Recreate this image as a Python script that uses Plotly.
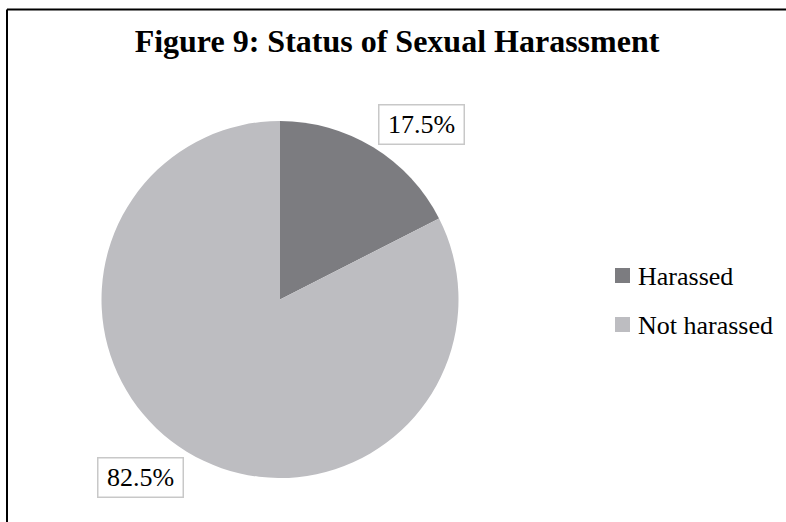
import plotly.graph_objects as go

labels = ["Harassed", "Not harassed"]
values = [17.5, 82.5]
colors = ["#7c7c80", "#bdbdc1"]
label_texts = ["17.5%", "82.5%"]
title_text = "Figure 9: Status of Sexual Harassment"

W, H = 786, 522
FONT = "Liberation Serif"

def px(x):
    return x / W

def py(y):
    return 1 - y / H

cx, cy, r = 280, 299.5, 178.5

fig = go.Figure(go.Pie(
    labels=labels,
    values=values,
    marker=dict(colors=colors, line=dict(width=0)),
    sort=False,
    direction="clockwise",
    rotation=0,
    textinfo="none",
    showlegend=False,
    domain=dict(x=[px(cx - r), px(cx + r)], y=[py(cy + r), py(cy - r)]),
))

# data labels in boxes
label_pos = [(421.5, 124.5), (140, 477.5)]
annotations = []
for t, (lx, ly) in zip(label_texts, label_pos):
    annotations.append(dict(
        x=px(lx), y=py(ly), xref="paper", yref="paper",
        text=t, showarrow=False, xanchor="center", yanchor="middle",
        font=dict(family=FONT, size=26, color="black"),
        bordercolor="#c8c8c8", borderwidth=1.5, borderpad=2,
        bgcolor="white", width=80, height=34,
    ))

# legend (manual, for matching spacing)
shapes = []
leg_y = [275.5, 324.5]
for lab, col, ly in zip(labels, colors, leg_y):
    shapes.append(dict(type="rect", xref="paper", yref="paper",
                       x0=px(615), x1=px(630), y0=py(ly - 7.5), y1=py(ly + 7.5),
                       fillcolor=col, line=dict(width=0)))
    annotations.append(dict(
        x=px(636), y=py(ly + 0.5), xref="paper", yref="paper",
        text=lab, showarrow=False, xanchor="left", yanchor="middle",
        font=dict(family=FONT, size=26, color="black"),
    ))

# frame
shapes.append(dict(type="line", xref="paper", yref="paper",
                   x0=px(7), x1=px(800), y0=py(9.5), y1=py(9.5),
                   line=dict(color="black", width=2)))
shapes.append(dict(type="line", xref="paper", yref="paper",
                   x0=px(7), x1=px(7), y0=py(9.5), y1=py(540),
                   line=dict(color="black", width=2)))

fig.update_layout(
    width=W, height=H,
    margin=dict(l=0, r=0, t=0, b=0),
    paper_bgcolor="white", plot_bgcolor="white",
    title=dict(text="<b>" + title_text + "</b>", x=px(397), xanchor="center",
               y=py(41), yanchor="middle",
               font=dict(family=FONT, size=32, color="black")),
    annotations=annotations,
    shapes=shapes,
)

fig.write_html("out.html")
